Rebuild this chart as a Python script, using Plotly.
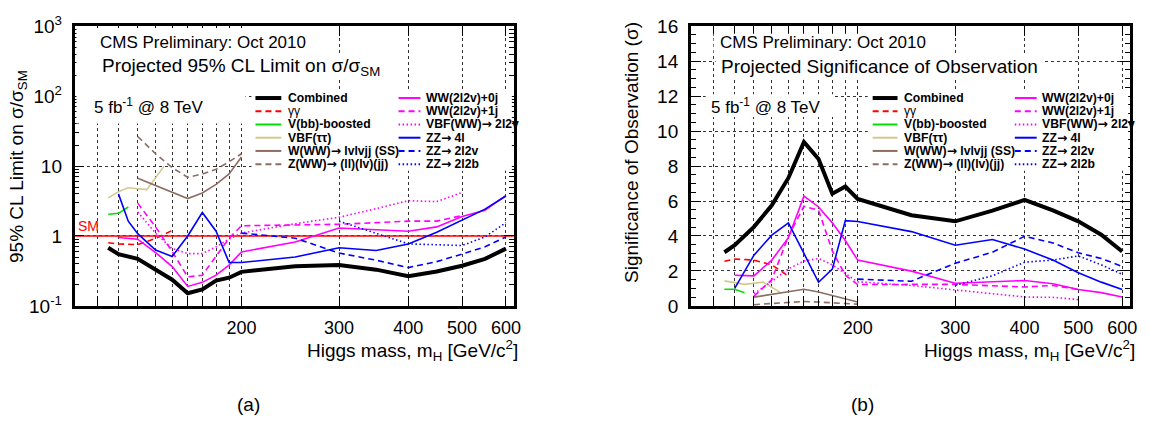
import math
import plotly.graph_objects as go

W, H = 1153, 435

# ------------------------------------------------------------------ data
x_range = [100, 620]            # Higgs mass axis range (GeV)
sm_level = 1.0                  # SM reference line in the limit panel

grid_masses = [110, 120, 130, 140, 150, 160, 170, 180, 190, 200, 300, 400, 500, 600]
grid_labels = ["", "", "", "", "", "", "", "", "", "200", "300", "400", "500", "600"]

lim_ticks = [0.1, 1, 10, 100, 1000]
lim_labels = ["10<sup>-1</sup>", "1", "10", "10<sup>2</sup>", "10<sup>3</sup>"]
sig_ticks = [0, 2, 4, 6, 8, 10, 12, 14, 16]

# Combined
m_comb = [115, 120, 130, 140, 150, 160, 170, 180, 190, 200, 250, 300, 350, 400, 450, 500, 550, 600]
lim_comb = [0.68, 0.55, 0.47, 0.33, 0.237, 0.152, 0.172, 0.23, 0.253, 0.307, 0.37, 0.385, 0.33, 0.265, 0.31, 0.375, 0.47, 0.66]
sig_comb = [3.07, 3.47, 4.52, 5.75, 7.32, 9.38, 8.4, 6.42, 6.83, 6.12, 5.19, 4.84, 5.45, 6.06, 5.46, 4.84, 4.07, 3.11]

# gamma gamma
m_gg = [115, 120, 130, 140, 150]
lim_gg = [0.8, 0.77, 0.75, 0.92, 1.2]
sig_gg = [2.55, 2.68, 2.62, 2.35, 1.7]

# V(bb)-boosted
m_vbb = [115, 120, 125]
lim_vbb = [2.04, 2.11, 2.6]
sig_vbb = [0.95, 0.95, 0.75]

# VBF(tautau)
m_vbftt = [115, 120, 125, 135, 145]
lim_vbftt = [3.5, 4.3, 4.9, 4.6, 9.9]
sig_vbftt = [1.43, 1.32, 1.23, 1.36, 0.77]

# W(WW) -> lvlvjj (SS)
m_www = [130, 140, 150, 160, 170, 180, 190, 200]
lim_www = [6.7, 5.3, 4.27, 3.43, 4.13, 5.46, 7.7, 13.5]
sig_www = [0.5, 0.65, 0.8, 0.95, 0.8, 0.6, 0.42, 0.22]

# Z(WW) -> (ll)(lv)(jj)
m_zww = [130, 140, 150, 160, 170, 180, 190, 200]
lim_zww = [26.5, 15, 9.5, 6.9, 7.7, 9.0, 11.5, 15]
sig_zww = [0.07, 0.12, 0.18, 0.25, 0.22, 0.18, 0.14, 0.1]

# WW(2l2v)+0j
m_ww0 = [120, 130, 140, 150, 160, 170, 180, 190, 200, 250, 300, 350, 400, 450, 500, 550, 600]
lim_ww0 = [0.95, 0.9, 0.58, 0.365, 0.19, 0.217, 0.275, 0.383, 0.59, 0.82, 1.3, 1.22, 1.17, 1.35, 1.9, 2.34, 3.8]
sig_ww0 = [1.75, 1.72, 2.62, 3.9, 6.28, 5.66, 4.75, 3.74, 2.62, 1.99, 1.3, 1.36, 1.45, 1.27, 0.94, 0.76, 0.51]

# WW(2l2v)+1j
m_ww1 = [130, 140, 150, 160, 170, 180, 190, 200, 250, 300, 350, 400, 450, 500]
lim_ww1 = [2.95, 1.35, 0.6, 0.26, 0.275, 0.51, 0.93, 1.4, 1.45, 1.47, 1.55, 1.63, 1.63, 1.96]
sig_ww1 = [0.56, 1.5, 3.98, 5.7, 5.48, 3.15, 1.75, 1.22, 1.23, 1.23, 1.15, 1.08, 1.17, 0.94]

# VBF(WW) -> 2l2v
m_vbfww = [130, 140, 150, 160, 170, 180, 190, 200, 250, 300, 350, 400, 450, 500]
lim_vbfww = [2.2, 1.1, 0.66, 0.56, 0.56, 0.7, 0.9, 1.1, 1.5, 1.85, 2.46, 3.2, 3.1, 4.2]
sig_vbfww = [0.7, 1.4, 2.12, 2.57, 2.71, 2.35, 1.85, 1.38, 1.17, 0.9, 0.7, 0.51, 0.49, 0.36]

# ZZ -> 4l
m_zz4l = [120, 125, 130, 140, 150, 160, 170, 180, 190, 200, 250, 300, 350, 400, 450, 500, 550, 600]
lim_zz4l = [4.0, 1.63, 1.08, 0.63, 0.51, 1.0, 2.17, 1.17, 0.417, 0.417, 0.5, 0.68, 0.62, 0.77, 1.13, 1.67, 2.42, 3.73]
sig_zz4l = [1.0, 2.0, 2.9, 4.05, 4.75, 3.0, 1.35, 2.1, 4.88, 4.83, 4.25, 3.47, 3.8, 3.25, 2.62, 1.9, 1.36, 0.94]

# ZZ -> 2l2v
m_zz2l2v = [200, 250, 300, 350, 400, 450, 500, 550, 600]
lim_zz2l2v = [1.1, 0.93, 0.57, 0.45, 0.353, 0.43, 0.55, 0.7, 0.97]
sig_zz2l2v = [1.53, 1.41, 2.44, 3.07, 3.98, 3.6, 3.04, 2.71, 2.26]

# ZZ -> 2l2b
m_zz2l2b = [300, 350, 400, 450, 500, 550, 600]
lim_zz2l2b = [1.63, 1.08, 0.77, 0.75, 0.73, 0.97, 1.55]
sig_zz2l2b = [1.18, 1.72, 2.5, 2.62, 2.86, 2.35, 1.81]

# ------------------------------------------------------------------ styles
BLACK, RED, GREEN, KHAKI = "#000000", "#ff0000", "#00e000", "#d2ca8c"
BROWN, MAGENTA, BLUE = "#8c6e63", "#ff00ff", "#0000ff"
DASH, DOT, SOLID = "6px,4px", "1.5px,2.5px", "solid"
ARROW = "<span style=\"font-family:'DejaVu Sans'\">→</span>"

series = [
    # name, masses, limits, significances, colour, dash, width, legend column, row, bold
    ("Combined", m_comb, lim_comb, sig_comb, BLACK, SOLID, 4, 0, 0, True),
    ("γγ", m_gg, lim_gg, sig_gg, RED, DASH, 1.6, 0, 1, False),
    ("V(bb)-boosted", m_vbb, lim_vbb, sig_vbb, GREEN, SOLID, 1.6, 0, 2, True),
    ("VBF(ττ)", m_vbftt, lim_vbftt, sig_vbftt, KHAKI, SOLID, 1.6, 0, 3, True),
    ("W(WW)" + ARROW + " lvlvjj (SS)", m_www, lim_www, sig_www, BROWN, SOLID, 1.6, 0, 4, True),
    ("Z(WW)" + ARROW + " (ll)(lv)(jj)", m_zww, lim_zww, sig_zww, BROWN, DASH, 1.6, 0, 5, True),
    ("WW(2l2v)+0j", m_ww0, lim_ww0, sig_ww0, MAGENTA, SOLID, 1.6, 1, 0, True),
    ("WW(2l2v)+1j", m_ww1, lim_ww1, sig_ww1, MAGENTA, DASH, 1.6, 1, 1, True),
    ("VBF(WW)" + ARROW + " 2l2v", m_vbfww, lim_vbfww, sig_vbfww, MAGENTA, DOT, 1.6, 1, 2, True),
    ("ZZ" + ARROW + " 4l", m_zz4l, lim_zz4l, sig_zz4l, BLUE, SOLID, 1.6, 1, 3, True),
    ("ZZ" + ARROW + " 2l2v", m_zz2l2v, lim_zz2l2v, sig_zz2l2v, BLUE, DASH, 1.6, 1, 4, True),
    ("ZZ" + ARROW + " 2l2b", m_zz2l2b, lim_zz2l2b, sig_zz2l2b, BLUE, DOT, 1.6, 1, 5, True),
]

FONT = "Liberation Sans"


def px(x):
    return x / W


def py(y):
    return 1 - y / H


fig = go.Figure()

# SM reference line (left panel)
fig.add_trace(go.Scatter(x=x_range, y=[sm_level, sm_level], mode="lines",
                         line=dict(color=RED, width=1.6), xaxis="x", yaxis="y",
                         showlegend=False, hoverinfo="skip"))

# draw thin lines first, combined last
order = list(range(1, len(series))) + [0]
for i in order:
    name, m, lim, sig, col, dash, wd, _, _, _ = series[i]
    fig.add_trace(go.Scatter(x=m, y=lim, mode="lines", name=name,
                             line=dict(color=col, dash=dash, width=wd),
                             xaxis="x", yaxis="y", showlegend=False))
    fig.add_trace(go.Scatter(x=m, y=sig, mode="lines", name=name,
                             line=dict(color=col, dash=dash, width=wd),
                             xaxis="x2", yaxis="y2", showlegend=False))

# ------------------------------------------------------------------ axes
ydom = [py(310), py(14)]
common_x = dict(type="log", range=[math.log10(x_range[0]), math.log10(x_range[1])],
                tickmode="array", tickvals=grid_masses, ticktext=grid_labels,
                ticks="inside", ticklen=10, tickwidth=1, tickcolor="black",
                showline=True, linewidth=2.5, linecolor="black", mirror="ticks",
                showgrid=True, gridcolor="#333333", griddash="dot", gridwidth=1,
                zeroline=False, ticklabelstandoff=4,
                tickfont=dict(family=FONT, size=18, color="black"))
common_y = dict(ticks="inside", ticklen=10, tickwidth=1, tickcolor="black",
                showline=True, linewidth=2.5, linecolor="black", mirror="ticks",
                showgrid=True, gridcolor="#333333", griddash="dot", gridwidth=1,
                zeroline=False, tickfont=dict(family=FONT, size=19, color="black"),
                ticklabelstandoff=6)

minor_log = [k * d for d in (0.1, 1, 10, 100) for k in range(2, 10)]

fig.update_layout(
    width=W, height=H, margin=dict(l=0, r=0, t=0, b=0),
    paper_bgcolor="white", plot_bgcolor="white", showlegend=False,
    xaxis=dict(common_x, domain=[px(75), px(517)], anchor="y"),
    yaxis=dict(common_y, type="log", range=[-1, 3], domain=ydom, anchor="x",
               tickmode="array", tickvals=lim_ticks, ticktext=lim_labels,
               minor=dict(tickmode="array", tickvals=minor_log, ticks="inside",
                          ticklen=5, tickcolor="black", showgrid=False)),
    xaxis2=dict(common_x, domain=[px(695), px(1137)], anchor="y2"),
    yaxis2=dict(common_y, range=[0, 16], domain=ydom, anchor="x2",
                tickmode="array", tickvals=sig_ticks,
                minor=dict(dtick=0.5, ticks="inside", ticklen=5,
                           tickcolor="black", showgrid=False)),
)

# ------------------------------------------------------------------ white panes (hide grid behind text)
panes = [
    (77, 16, 247, 117), (96, 22, 312, 43), (98, 44, 390, 71), (253, 83, 515, 167),
    (718, 22, 936, 43), (720, 44, 1050, 71), (710, 86, 840, 110), (873, 83, 1135, 167),
]
shapes = []
for x0, y0, x1, y1 in panes:
    shapes.append(dict(type="rect", xref="paper", yref="paper", layer="above",
                       x0=px(x0), x1=px(x1), y0=py(y1), y1=py(y0),
                       fillcolor="white", line=dict(width=0)))

# ------------------------------------------------------------------ legends (manual, ROOT-like)
rows_y = [90, 104, 118, 132, 146, 160]
legend_cols = {
    "left": [(257, 283, 288), (401, 423, 427)],
    "right": [(878, 903, 908), (1021, 1043, 1046)],
}
annotations = []
for panel in ("left", "right"):
    for name, _, _, _, col, dash, wd, c, r, bold in series:
        sx0, sx1, tx = legend_cols[panel][c]
        yy = rows_y[r]
        shapes.append(dict(type="line", xref="paper", yref="paper", layer="above",
                           x0=px(sx0), x1=px(sx1), y0=py(yy), y1=py(yy),
                           line=dict(color=col, width=wd if wd > 2 else 2, dash=dash)))
        annotations.append(dict(xref="paper", yref="paper", x=px(tx), y=py(yy),
                                xanchor="left", yanchor="middle", showarrow=False,
                                text=name,
                                font=dict(family=FONT, size=12.2, color="black",
                                          weight="bold" if bold else "normal")))


def text(x, y, s, size, xanchor="left", color="black", angle=0):
    annotations.append(dict(xref="paper", yref="paper", x=px(x), y=py(y), text=s,
                            xanchor=xanchor, yanchor="middle", showarrow=False,
                            textangle=angle,
                            font=dict(family=FONT, size=size, color=color)))


# left panel texts
text(99, 31, "CMS Preliminary: Oct 2010", 17)
text(101, 57, "Projected 95% CL Limit on σ/σ<sub>SM</sub>", 19)
text(93, 98, "5 fb<sup>-1</sup> @ 8 TeV", 17)
text(76, 225, "SM", 14, color=RED)
text(18, 162, "95% CL Limit on σ/σ<sub>SM</sub>", 19, xanchor="center", angle=-90)
text(523, 357, "Higgs mass, m<sub>H</sub> [GeV/c<sup>2</sup>]", 19, xanchor="right")
text(250, 414, "(a)", 19, xanchor="center")

# right panel texts
text(722, 31, "CMS Preliminary: Oct 2010", 17)
text(723, 57, "Projected Significance of Observation", 19)
text(713, 98, "5 fb<sup>-1</sup> @ 8 TeV", 17)
text(636, 148, "Significance of Observation (σ)", 19, xanchor="center", angle=-90)
text(1144, 357, "Higgs mass, m<sub>H</sub> [GeV/c<sup>2</sup>]", 19, xanchor="right")
text(868, 414, "(b)", 19, xanchor="center")

fig.update_layout(shapes=shapes, annotations=annotations)
fig.write_html("out.html")
